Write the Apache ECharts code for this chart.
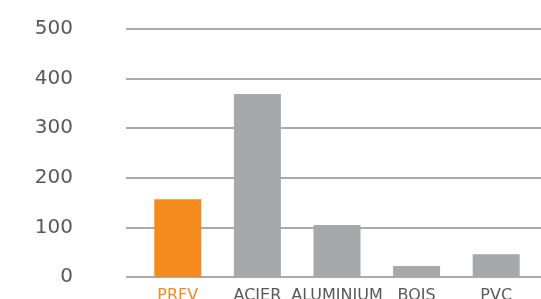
<!DOCTYPE html>
<html><head><meta charset="utf-8">
<script src="https://cdn.jsdelivr.net/npm/echarts@6/dist/echarts.min.js"></script>
<style>html,body{margin:0;padding:0;background:#fff}#c{width:541px;height:299px}</style>
</head><body><div id="c"></div>
<script>
var categories = ["PRFV", "ACIER", "ALUMINIUM", "BOIS", "PVC"];
var values = [157, 369, 105, 22, 46];
var highlightCategory = "PRFV";
var yMin = 0, yMax = 500, yStep = 100;

var ORANGE = "#f58a1f", GRAY = "#a7a8ab", TEXT = "#58595b";
var chart = echarts.init(document.getElementById('c'), null, {renderer: 'canvas'});
chart.setOption({
  animation: false,
  grid: [
    {left: 138, right: 5, top: 29, bottom: 22, containLabel: false, outerBoundsMode: 'none'},
    {left: 126, right: 0, top: 29, bottom: 22, containLabel: false, outerBoundsMode: 'none'}
  ],
  xAxis: [
    {type: 'category', gridIndex: 0, data: categories,
     axisLine: {show: false}, axisTick: {show: false},
     axisLabel: {interval: 0, hideOverlap: false, margin: 11, fontFamily: 'DejaVu Sans', fontSize: 16,
       color: function (v) { return v === highlightCategory ? ORANGE : TEXT; }}},
    {type: 'value', gridIndex: 1, show: false, min: 0, max: 1}
  ],
  yAxis: [
    {type: 'value', gridIndex: 0, min: yMin, max: yMax, interval: yStep,
     axisLabel: {show: false}, splitLine: {show: false}, axisLine: {show: false}, axisTick: {show: false}},
    {type: 'value', gridIndex: 1, min: yMin, max: yMax, interval: yStep,
     axisLine: {show: false}, axisTick: {show: false},
     axisLabel: {margin: 53, fontFamily: 'DejaVu Sans', fontSize: 20, color: TEXT},
     splitLine: {lineStyle: {color: '#a9aaad', width: 2}}}
  ],
  series: [{
    type: 'bar', xAxisIndex: 0, yAxisIndex: 0, barWidth: 47,
    data: values.map(function (v, i) {
      return {value: v, itemStyle: {color: categories[i] === highlightCategory ? ORANGE : GRAY}};
    })
  }]
});
</script></body></html>
